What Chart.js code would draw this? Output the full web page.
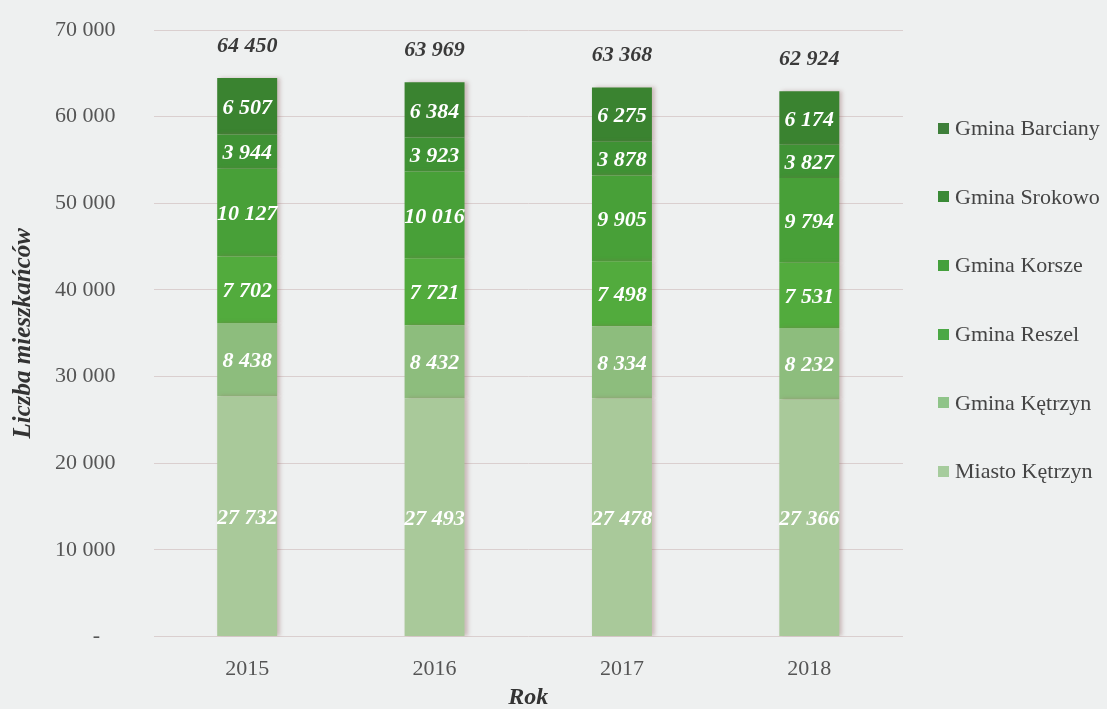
<!DOCTYPE html>
<html lang="pl">
<head>
<meta charset="utf-8">
<title>Liczba mieszkańców</title>
<script src="https://cdn.jsdelivr.net/npm/chart.js@4"></script>
<style>
    body { margin: 0; background: #eef0f0; }
    #wrap { position: relative; width: 1107px; height: 709px; }
    #legend {
        position: absolute; left: 938px; top: 94px;
        list-style: none; margin: 0; padding: 0;
        font-family: "Liberation Serif", serif; font-size: 22px; color: #444;
    }
    #legend li { height: 68.6px; display: flex; align-items: center; white-space: nowrap; }
    #legend span.box { display: inline-block; width: 11px; height: 11px; margin: 0 6px 0 0; }
</style>
</head>
<body>
<div id="wrap">
    <canvas id="chart" width="1107" height="709"></canvas>
    <ul id="legend"></ul>
</div>
<script>
const years = ['2015', '2016', '2017', '2018'];

const miastoKetrzyn = [27732, 27493, 27478, 27366];
const gminaKetrzyn = [8438, 8432, 8334, 8232];
const gminaReszel = [7702, 7721, 7498, 7531];
const gminaKorsze = [10127, 10016, 9905, 9794];
const gminaSrokowo = [3944, 3923, 3878, 3827];
const gminaBarciany = [6507, 6384, 6275, 6174];

const totals = [64450, 63969, 63368, 62924];

const yTicks = [0, 10000, 20000, 30000, 40000, 50000, 60000, 70000];

const SERIF = '"Liberation Serif", "Times New Roman", serif';

// 64450 -> "64 450"
function fmt(v) {
    return String(v).replace(/\B(?=(\d{3})+(?!\d))/g, ' ');
}

const series = [
    { label: 'Miasto Kętrzyn', data: miastoKetrzyn, color: '#a9c99a', legend: '#a6cc9d' },
    { label: 'Gmina Kętrzyn', data: gminaKetrzyn, color: '#8dbd7d', legend: '#8fc489' },
    { label: 'Gmina Reszel', data: gminaReszel, color: '#52ab3d', legend: '#4ba845' },
    { label: 'Gmina Korsze', data: gminaKorsze, color: '#48a038', legend: '#44a03d' },
    { label: 'Gmina Srokowo', data: gminaSrokowo, color: '#3f9234', legend: '#3a8a36' },
    { label: 'Gmina Barciany', data: gminaBarciany, color: '#3a8330', legend: '#3e7f3a' }
];

// lekki cień po prawej stronie słupków
const barShadow = {
    id: 'barShadow',
    beforeDatasetsDraw(chart) {
        const ctx = chart.ctx;
        ctx.save();
        ctx.shadowColor = 'rgba(140, 90, 90, 0.35)';
        ctx.shadowBlur = 4;
        ctx.shadowOffsetX = 3;
        ctx.shadowOffsetY = 0;
    },
    afterDatasetsDraw(chart) {
        chart.ctx.restore();
    }
};

// etykiety wartości w słupkach + sumy nad słupkami
const barLabels = {
    id: 'barLabels',
    afterDatasetsDraw(chart) {
        const ctx = chart.ctx;
        ctx.save();
        ctx.textAlign = 'center';
        ctx.textBaseline = 'middle';
        ctx.font = `italic bold 22px ${SERIF}`;
        ctx.fillStyle = '#ffffff';
        chart.data.datasets.forEach((ds, i) => {
            const meta = chart.getDatasetMeta(i);
            meta.data.forEach((bar, j) => {
                ctx.fillText(fmt(ds.data[j]), bar.x, (bar.y + bar.base) / 2 + 2);
            });
        });

        const last = chart.getDatasetMeta(chart.data.datasets.length - 1);
        ctx.fillStyle = '#3a3a3a';
        last.data.forEach((bar, j) => {
            ctx.fillText(fmt(totals[j]), bar.x, bar.y - 32);
        });
        ctx.restore();
    }
};

// niewidoczne znaczniki osi - robią odstęp etykiet bez dodatkowego paddingu
const hiddenTicks = len => ({
    display: true,
    drawOnChartArea: false,
    drawTicks: true,
    tickLength: len,
    tickColor: 'transparent',
    color: 'transparent'
});

const chart = new Chart(document.getElementById('chart'), {
    type: 'bar',
    data: {
        labels: years,
        datasets: series.map(s => ({
            label: s.label,
            data: s.data,
            backgroundColor: s.color,
            borderWidth: 0,
            barPercentage: 0.32,
            categoryPercentage: 1
        }))
    },
    options: {
        responsive: false,
        animation: false,
        layout: {
            padding: { left: 5, right: 204, top: 30, bottom: 0 }
        },
        plugins: {
            legend: { display: false },
            tooltip: { enabled: false }
        },
        scales: {
            x: {
                stacked: true,
                grid: hiddenTicks(14),
                border: { display: false },
                ticks: {
                    color: '#555',
                    font: { family: SERIF, size: 22 },
                    padding: 5
                },
                title: {
                    display: true,
                    text: 'Rok',
                    color: '#333',
                    font: { family: SERIF, size: 24, style: 'italic', weight: 'bold', lineHeight: 0.92 },
                    padding: { top: 0, bottom: 0 }
                }
            },
            y: {
                stacked: true,
                min: 0,
                max: 70000,
                afterBuildTicks: axis => {
                    axis.ticks = yTicks.map(v => ({ value: v }));
                },
                grid: {
                    color: '#dacfcf',
                    drawTicks: true,
                    tickLength: 36,
                    tickColor: 'transparent'
                },
                border: { display: false },
                ticks: {
                    color: '#555',
                    font: { family: SERIF, size: 22 },
                    padding: 2,
                    callback: v => v === 0 ? '-\u00a0\u00a0\u2009' : fmt(v)
                },
                title: {
                    display: true,
                    text: 'Liczba mieszkańców',
                    color: '#333',
                    font: { family: SERIF, size: 25, style: 'italic', weight: 'bold' },
                    padding: { top: 4, bottom: 14 }
                }
            }
        }
    },
    plugins: [barShadow, barLabels]
});

// legenda w HTML, od góry w odwrotnej kolejności
const legendList = document.getElementById('legend');
series.slice().reverse().forEach(s => {
    const li = document.createElement('li');
    const box = document.createElement('span');
    box.className = 'box';
    box.style.backgroundColor = s.legend;
    li.appendChild(box);
    li.appendChild(document.createTextNode(s.label));
    legendList.appendChild(li);
});
</script>
</body>
</html>
